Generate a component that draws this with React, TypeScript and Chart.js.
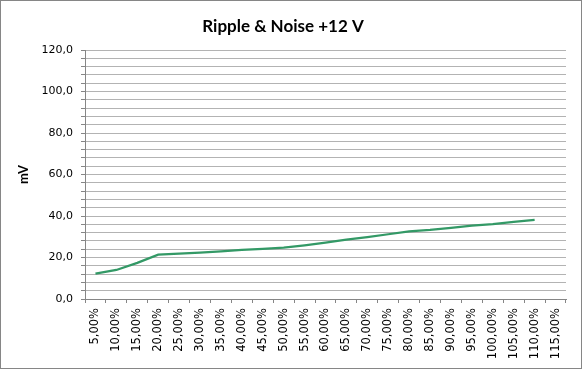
import React, { useEffect, useRef } from "react";
import { Chart, registerables } from "chart.js";

Chart.register(...registerables);

const categories = [
  "5,00%", "10,00%", "15,00%", "20,00%", "25,00%", "30,00%", "35,00%", "40,00%",
  "45,00%", "50,00%", "55,00%", "60,00%", "65,00%", "70,00%", "75,00%", "80,00%",
  "85,00%", "90,00%", "95,00%", "100,00%", "105,00%", "110,00%", "115,00%",
];

const rippleNoise12V: (number | null)[] = [
  12.2, 14.0, 17.4, 21.4, 21.9, 22.4, 23.0, 23.7, 24.2, 24.8, 25.9, 27.2,
  28.6, 29.8, 31.2, 32.6, 33.3, 34.3, 35.4, 36.1, 37.2, 38.1, null,
];

const yMin = 0;
const yMax = 120;
const yGridStep = 4;
const yLabelStep = 20;

export default function App() {
  const ref = useRef<HTMLCanvasElement | null>(null);

  useEffect(() => {
    if (!ref.current) return;
    const chart = new Chart(ref.current, {
      type: "line",
      data: {
        labels: categories,
        datasets: [
          {
            label: "Ripple & Noise +12 V",
            data: rippleNoise12V,
            borderColor: "#339966",
            backgroundColor: "#339966",
            borderWidth: 2.25,
            pointRadius: 0,
            tension: 0,
            spanGaps: false,
          },
        ],
      },
      options: {
        responsive: false,
        animation: false,
        devicePixelRatio: 1,
        layout: { padding: { top: 0, left: 0, right: 17, bottom: 0 } },
        plugins: {
          legend: { display: false },
          tooltip: { enabled: false },
          title: {
            display: true,
            text: "Ripple & Noise +12 V",
            color: "#000",
            font: { family: "Lato", size: 17, weight: "bold" },
            padding: { top: 16, bottom: 13.6 },
          },
        },
        scales: {
          x: {
            type: "category",
            offset: true,
            grid: {
              offset: true,
              drawOnChartArea: false,
              drawTicks: true,
              tickLength: 4,
              tickColor: "#868686",
              color: "#868686",
            },
            border: { display: true, color: "#868686", width: 1 },
            ticks: {
              autoSkip: false,
              minRotation: 90,
              maxRotation: 90,
              padding: 5,
              color: "#000",
              font: { family: "DejaVu Sans", size: 11.5 },
            },
            afterFit: (scale: any) => {
              scale.height = 71;
            },
          },
          y: {
            min: yMin,
            max: yMax,
            grid: {
              color: "#b3b3b3",
              tickLength: 4,
              tickColor: "#868686",
              lineWidth: 1,
            },
            border: { display: true, color: "#868686", width: 1 },
            ticks: {
              stepSize: yGridStep,
              autoSkip: false,
              padding: 8,
              color: "#000",
              font: { family: "DejaVu Sans", size: 11 },
              callback: (v: any) =>
                Number(v) % yLabelStep === 0 ? Number(v).toFixed(1).replace(".", ",") : "",
            },
            title: {
              display: true,
              text: "mV",
              color: "#000",
              font: { family: "Lato", size: 13, weight: "bold" },
              padding: { top: 16, bottom: 0 },
            },
            afterFit: (scale: any) => {
              scale.width = 85;
            },
          },
        },
      },
    });
    return () => chart.destroy();
  }, []);

  return (
    <div style={{ position: "fixed", left: 0, top: 0, width: 583, height: 370, background: "#fff" }}>
      <canvas ref={ref} width={583} height={370} style={{ display: "block" }} />
      <div
        style={{
          position: "absolute",
          left: 0,
          top: 0,
          width: 582,
          height: 369,
          border: "1px solid #868686",
          boxSizing: "border-box",
          pointerEvents: "none",
        }}
      />
    </div>
  );
}
